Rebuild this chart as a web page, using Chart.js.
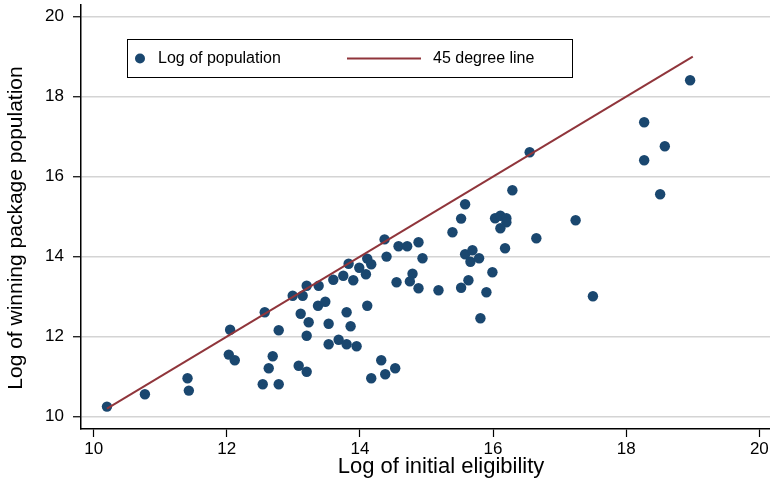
<!DOCTYPE html>
<html>
<head>
<meta charset="utf-8">
<script src="https://cdn.jsdelivr.net/npm/chart.js@4.4.1/dist/chart.umd.min.js"></script>
<style>
  html, body { margin: 0; padding: 0; background: #fff; }
  #wrap { width: 770px; height: 486px; position: relative; }
</style>
</head>
<body>
<div id="wrap"><canvas id="c"></canvas></div>
<script>
// ---- Data ----
const xTickValues = [10, 12, 14, 16, 18, 20];
const yTickValues = [10, 12, 14, 16, 18, 20];

const logEligibility = [
  10.20, 10.77, 11.41, 11.43, 12.05, 12.03, 12.12, 12.57, 12.78, 12.69,
  12.63, 12.54, 12.78, 12.99, 13.14, 13.20, 13.38, 13.11, 13.23, 13.20,
  13.08, 13.20, 13.37, 13.48, 13.53, 13.53, 13.68, 13.80, 13.95, 13.86,
  13.80, 13.60, 13.75, 13.90, 13.83, 13.99, 14.09, 14.11, 14.17, 14.11,
  14.37, 14.40, 14.58, 14.71, 14.88, 14.94, 14.79, 14.75, 14.55, 14.88,
  15.18, 14.32, 14.17, 14.38, 14.53, 15.39, 15.52, 15.58, 15.58, 15.69,
  15.66, 15.79, 15.63, 15.52, 15.99, 15.90, 15.81, 16.03, 16.11, 16.20,
  16.20, 16.11, 16.18, 16.29, 16.55, 16.65, 17.24, 17.50, 18.27, 18.58,
  18.27, 18.51, 18.96
];
const logPopulation = [
  10.25, 10.56, 10.96, 10.65, 12.17, 11.55, 11.41, 12.61, 12.16, 11.51,
  11.21, 10.81, 10.81, 13.02, 13.02, 13.27, 13.27, 12.57, 12.36, 12.02,
  11.27, 11.12, 12.77, 12.87, 12.32, 11.81, 11.92, 11.81, 11.76, 12.26,
  12.61, 13.42, 13.52, 13.41, 13.82, 13.72, 13.56, 13.95, 13.81, 12.77,
  14.43, 14.00, 14.26, 14.26, 14.36, 13.96, 13.57, 13.38, 13.36, 13.21,
  13.16, 11.41, 10.96, 11.06, 11.21, 14.61, 14.95, 15.31, 14.06, 14.16,
  13.87, 13.96, 13.41, 13.22, 13.61, 13.11, 12.46, 14.96, 15.02, 14.96,
  14.86, 14.71, 14.21, 15.66, 16.61, 14.46, 14.91, 13.01, 17.36, 16.76,
  16.41, 15.56, 18.41
];
const lineEnds = [10.2, 19.0];

const seriesLabels = ["Log of population", "45 degree line"];
const axisTitles = { x: "Log of initial eligibility", y: "Log of winning package population" };

// ---- Styles ----
const NAVY = "#1a476f";
const MAROON = "#90353b";
const FONT = "'Liberation Sans', Arial, Helvetica, sans-serif";

const scatterPts = logEligibility.map((x, i) => ({ x: x, y: logPopulation[i] }));
const linePts = lineEnds.map(v => ({ x: v, y: v }));

const overlayPlugin = {
  id: "overlay",
  afterDraw(chart) {
    const ctx = chart.ctx;
    const ds = chart.data.datasets;
    ctx.save();
    ctx.fillStyle = "#000";
    ctx.textAlign = "center";
    ctx.textBaseline = "middle";
    ctx.font = "22px " + FONT;
    ctx.fillText(axisTitles.x, 441, 467);
    ctx.save();
    ctx.font = "21px " + FONT;
    ctx.translate(16, 228);
    ctx.rotate(-Math.PI / 2);
    ctx.fillText(axisTitles.y, 0, 0);
    ctx.restore();

    const bx = 127.5, by = 39.5, bw = 445, bh = 38;
    ctx.fillStyle = "#fff";
    ctx.fillRect(bx, by, bw, bh);
    ctx.strokeStyle = "#000";
    ctx.lineWidth = 1;
    ctx.strokeRect(bx, by, bw, bh);
    const cy = by + bh / 2;
    ctx.fillStyle = ds[1].backgroundColor;
    ctx.beginPath();
    ctx.arc(140, cy, 5, 0, Math.PI * 2);
    ctx.fill();
    ctx.strokeStyle = ds[0].borderColor;
    ctx.lineWidth = 2;
    ctx.beginPath();
    ctx.moveTo(347, cy);
    ctx.lineTo(421, cy);
    ctx.stroke();
    ctx.fillStyle = "#000";
    ctx.font = "16px " + FONT;
    ctx.textAlign = "left";
    ctx.fillText(ds[1].label, 158, cy);
    ctx.fillText(ds[0].label, 433, cy);
    ctx.restore();
  }
};

function zeroPad(s) { s.paddingLeft = 0; s.paddingRight = 0; s.paddingTop = 0; s.paddingBottom = 0; }

new Chart(document.getElementById("c"), {
  type: "scatter",
  data: {
    datasets: [
      {
        type: "line",
        label: seriesLabels[1],
        data: linePts,
        borderColor: MAROON,
        borderWidth: 2,
        pointRadius: 0,
        fill: false,
        order: 0
      },
      {
        label: seriesLabels[0],
        data: scatterPts,
        backgroundColor: NAVY,
        borderColor: NAVY,
        borderWidth: 0,
        pointRadius: 5.2,
        order: 1
      }
    ]
  },
  options: {
    responsive: true,
    maintainAspectRatio: false,
    animation: false,
    devicePixelRatio: 1,
    layout: { autoPadding: false, padding: { top: 5, right: 0, left: 0, bottom: 0 } },
    plugins: { legend: { display: false }, tooltip: { enabled: false } },
    scales: {
      x: {
        type: "linear",
        min: 9.81,
        max: 20.16,
        afterBuildTicks: s => { s.ticks = xTickValues.map(v => ({ value: v })); },
        afterFit: s => { s.height = 57; zeroPad(s); },
        ticks: { color: "#000", font: { size: 17, family: FONT }, padding: 2, maxRotation: 0 },
        grid: { drawOnChartArea: false, tickLength: 8, tickColor: "#000", tickWidth: 1.2 },
        border: { color: "#000", width: 1.5 }
      },
      y: {
        type: "linear",
        min: 9.69,
        max: 20.29,
        afterBuildTicks: s => { s.ticks = yTickValues.map(v => ({ value: v })); },
        afterFit: s => { s.width = 81; zeroPad(s); },
        ticks: { color: "#000", font: { size: 17, family: FONT }, padding: 9 },
        grid: { color: "#d4d4d4", lineWidth: 1.5, tickLength: 8, tickColor: "#000", tickWidth: 1.2 },
        border: { color: "#000", width: 1.5 }
      }
    }
  },
  plugins: [overlayPlugin]
});
</script>
</body>
</html>
